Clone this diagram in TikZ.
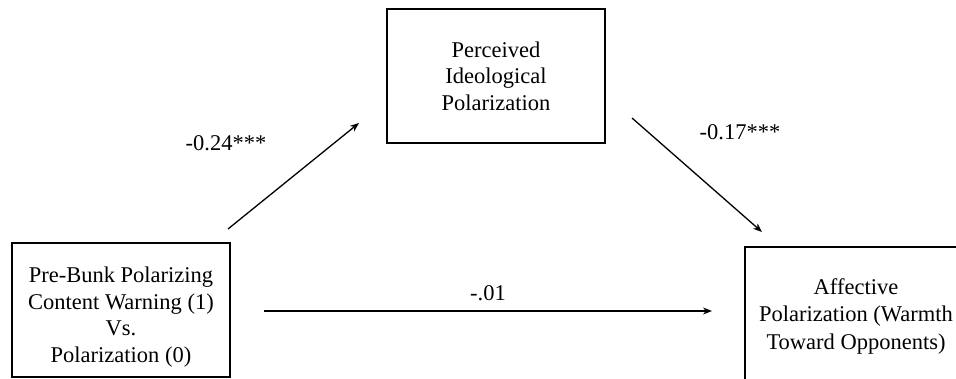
\documentclass[tikz,border=0pt]{standalone}
\usepackage{fontspec}
\setmainfont{Liberation Serif}
\usetikzlibrary{arrows.meta}
\begin{document}
\begin{tikzpicture}[x=1pt,y=-1pt,
  box/.style={draw, line width=1.4pt, minimum width=218pt, minimum height=134pt, align=center, inner sep=0pt, font=\fontsize{22.5}{26.5}\selectfont},
  lbl/.style={font=\fontsize{22.5}{26.5}\selectfont, inner sep=0pt},
  arr/.style={line width=1.3pt, -{Stealth[length=9pt,width=7pt]}}]
\useasboundingbox (0,0) rectangle (956,379);
\clip (0,0) rectangle (956,379);
\node[box, label={[lbl, align=center, yshift=-7pt]center:Pre-Bunk Polarizing\\Content Warning (1)\\Vs.\\Polarization (0)}] (x) at (121,310) {};
\node[box] (m) at (496,76) {Perceived\\Ideological\\Polarization};
\node[box, minimum width=222pt, minimum height=138pt, font=\fontsize{22.5}{27.5}\selectfont] (y) at (856,316) {Affective\\Polarization (Warmth\\Toward Opponents)};
\coordinate (a1s) at (228,229);
\coordinate (a1e) at (359,123);
\coordinate (a2s) at (632,118);
\coordinate (a2e) at (762,232);
\coordinate (a3s) at (264,311);
\coordinate (a3e) at (712,311);
\draw[arr] (a1s) -- (a1e);
\draw[arr] (a2s) -- (a2e);
\draw[arr] (a3s) -- (a3e);
\node[lbl] (l1) at (226,143) {-0.24***};
\node[lbl] (l2) at (740,132) {-0.17***};
\node[lbl] (l3) at (488,293) {-.01};
\end{tikzpicture}
\end{document}
